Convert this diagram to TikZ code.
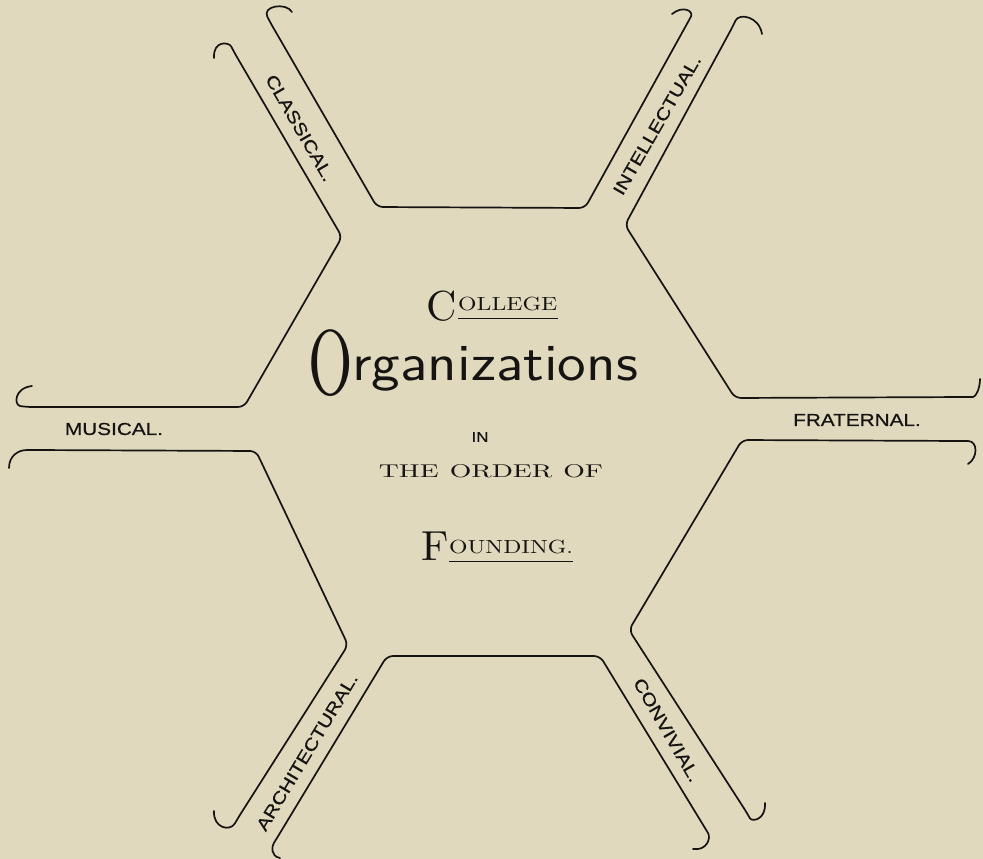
\documentclass[tikz,border=0pt]{standalone}
\usepackage{fontspec}
\usepackage{xcolor}
\usepackage{tikz}
\newfontfamily\labelfont{Liberation Sans}[FakeStretch=1.2, FakeBold=0.6]
\newfontfamily\capsfont{lmroman10-regular.otf}[FakeStretch=1.25]
\newfontfamily\widecaps{lmroman10-regular.otf}[FakeStretch=1.5]
\newfontfamily\swashfont{lmroman10-regular.otf}
\newfontfamily\orgfont{lmsans10-regular.otf}[FakeStretch=1.1]
\definecolor{cPaper}{RGB}{224,217,190}
\definecolor{cInk}{RGB}{22,20,18}
\tikzset{
	lobe/.style     ={draw=cInk, line width=1.7pt, line join=round, line cap=round, rounded corners=6pt},
	chanlabel/.style={text=cInk, inner sep=0pt, font=\labelfont\fontsize{17.3}{19}\selectfont},
	titlecaps/.style={text=cInk, inner sep=0pt, font=\capsfont\fontsize{19}{21}\selectfont},
	initial/.style  ={text=cInk, inner sep=0pt, font=\swashfont\fontsize{42}{44}\selectfont},
	rulemark/.style ={draw=cInk, line width=0.8pt},
}

\begin{document}
\begin{tikzpicture}[x=1pt, y=-1pt]
	\useasboundingbox (0,0) rectangle (983,859);
	\fill[cPaper] (0,0) rectangle (983,859);
	% top lobe, between classical and intellectual
	\draw[lobe] (292,12) .. controls (286,2) and (262,6) .. (270,22)
		-- (377,207) -- (585,208) -- (688,22)
		.. controls (694,11) and (683,5) .. (672,14);
	% upper right lobe
	\draw[lobe] (762,34) .. controls (759,16) and (739,13) .. (733,26)
		-- (625,225) -- (735,398) -- (967,397)
		.. controls (975,397) and (980,390) .. (980,379);
	% lower right lobe
	\draw[lobe] (968,464) .. controls (978,458) and (978,441) .. (962,441)
		-- (742,440) -- (629,630) -- (747,813)
		.. controls (752,822) and (766,820) .. (765,803);
	% bottom lobe
	\draw[lobe] (693,849) .. controls (707,851) and (711,838) .. (705,828)
		-- (600,656) -- (387,656) -- (277,838)
		.. controls (272,846) and (270,856) .. (280,858);
	% lower left lobe
	\draw[lobe] (214,811) .. controls (213,828) and (230,832) .. (238,818)
		-- (348,645) -- (256,451) -- (33,450)
		.. controls (18,450) and (9,456) .. (9,468);
	% upper left lobe
	\draw[lobe] (214,58) .. controls (213,40) and (229,42) .. (234,52)
		-- (342,237) -- (244,407) -- (26,407)
		.. controls (14,405) and (14,388) .. (32,386);

	% channel labels
	\node[chanlabel, rotate=-60] (classical) at (300,128) {CLASSICAL.};
	\node[chanlabel, rotate=60] (intellectual) at (657,125) {INTELLECTUAL.};
	\node[chanlabel] (musical) at (114,429) {MUSICAL.};
	\node[chanlabel] (fraternal) at (857,420) {FRATERNAL.};
	\node[chanlabel, rotate=59] (architectural) at (307,752) {ARCHITECTURAL.};
	\node[chanlabel, rotate=-60] (convivial) at (667,730) {CONVIVIAL.};

	% title
	\node[initial, anchor=base east] (bigc) at (457,320) {C};
	\node[titlecaps, anchor=base west] (college) at (458,310) {OLLEGE};
	\draw[rulemark] ([yshift=-8pt]college.base west) -- ([yshift=-8pt]college.base east);
	\node[text=cInk, inner sep=0pt, xscale=0.62, font=\swashfont\fontsize{92}{94}\selectfont] (bigo) at (331,363) {O};
	\node[text=cInk, inner sep=0pt, anchor=base west, font=\orgfont\fontsize{52}{54}\selectfont] (orgs) at (352,380) {rganizations};
	\node[text=cInk, inner sep=0pt, font=\labelfont\fontsize{14}{16}\selectfont] (in) at (480,437) {IN};
	\node[text=cInk, inner sep=0pt, font=\widecaps\fontsize{18.5}{20}\selectfont] (order) at (491,471) {THE\hspace{0.6em}ORDER\hspace{0.6em}OF};
	\node[initial, anchor=base east] (bigf) at (449,560) {F};
	\node[titlecaps, anchor=base west] (founding) at (449,553) {OUNDING.};
	\draw[rulemark] ([yshift=-8pt]founding.base west) -- ([yshift=-8pt]founding.base east);
\end{tikzpicture}
\end{document}
